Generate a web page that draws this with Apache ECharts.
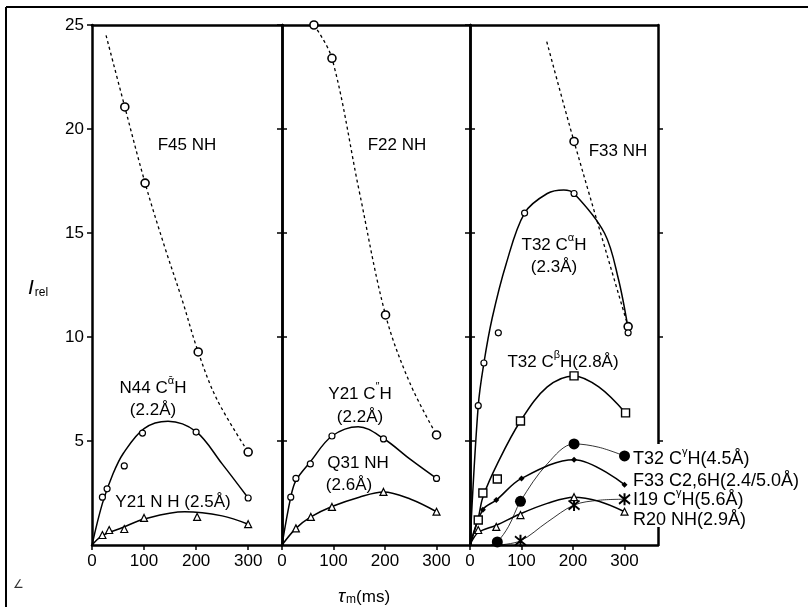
<!DOCTYPE html>
<html><head><meta charset="utf-8">
<script src="https://cdn.jsdelivr.net/npm/echarts@6/dist/echarts.min.js"></script>
<style>html,body{margin:0;padding:0;background:#fff}#c{width:808px;height:607px}</style>
</head><body><div id="c"></div>
<script>
// ---- tick labels ----
const xTicks = [0, 100, 200, 300];
const yTicks = [0, 5, 10, 15, 20, 25];

// ---- Panel 1 ----
const f45Pts = [[63,21.06],[102,17.4],[204,9.28],[300,4.47]];
const f45Line = [[27,24.5],[63,21.06],[102,17.4],[140,14.3],[173,11.8],[204,9.28],[240,7.0],[300,4.47]];
const n44Pts = [[20,2.3],[29,2.7],[62,3.8],[97,5.38],[200,5.43],[300,2.26]];
const n44Fit = [[0,0],[20,2.0],[40,3.4],[60,4.4],[100,5.6],[146,5.95],[200,5.45],[250,3.9],[300,2.26]];
const y21nhPts = [[20,0.48],[33,0.72],[62,0.77],[100,1.3],[202,1.35],[300,1.0]];
const y21nhFit = [[0,0],[20,0.45],[60,0.85],[100,1.25],[178,1.6],[250,1.4],[300,1.0]];

// ---- Panel 2 ----
const f22Pts = [[62,25],[97,23.4],[201,11.06],[300,5.29]];
const f22Line = [[62,25],[97,23.4],[150,17.0],[201,11.06],[248,7.8],[300,5.29]];
const y21caPts = [[17,2.3],[27,3.2],[55,3.9],[97,5.24],[197,5.1],[300,3.2]];
const y21caFit = [[0,0],[17,2.3],[27,3.1],[55,4.0],[97,5.24],[148,5.69],[197,5.12],[250,4.1],[300,3.2]];
const q31Pts = [[27,0.8],[56,1.35],[97,1.83],[197,2.55],[300,1.6]];
const q31Fit = [[0,0],[27,0.8],[56,1.35],[97,1.85],[150,2.3],[197,2.55],[250,2.2],[300,1.6]];

// ---- Panel 3 ----
const f33Pts = [[202,19.4],[307,10.5]];
const f33Line = [[149,24.2],[202,19.4],[307,10.5]];
const t32aPts = [[16,6.7],[27,8.75],[55,10.2],[106,15.96],[202,16.9],[307,10.2]];
const t32aFit = [[0,0],[16,6.7],[27,8.75],[43,10.9],[70,13.5],[106,15.96],[150,16.9],[182,17.07],[202,16.9],[261,15.0],[288,12.8],[307,10.4]];
const t32bPts = [[16,1.2],[25,2.5],[53,3.17],[98,5.96],[202,8.13],[302,6.35]];
const t32bFit = [[0,0],[16,1.3],[25,2.3],[53,3.9],[98,5.96],[150,7.6],[202,8.13],[250,7.6],[302,6.35]];
const t32gPts = [[53,0.15],[98,2.1],[202,4.86],[300,4.28]];
const t32gFit = [[40,0],[53,0.15],[75,0.9],[98,2.1],[150,3.9],[202,4.86],[250,4.7],[300,4.28]];
const f33cPts = [[25,1.7],[51,2.16],[100,3.2],[202,4.1],[300,2.9]];
const f33cFit = [[0,0],[25,1.7],[51,2.16],[100,3.2],[202,4.1],[300,2.9]];
const i19Pts = [[98,0.2],[202,1.92],[300,2.2]];
const i19Fit = [[55,0],[98,0.2],[150,1.1],[202,1.92],[250,2.15],[300,2.2]];
const r20Pts = [[16,0.72],[51,0.87],[98,1.44],[202,2.3],[300,1.6]];
const r20Fit = [[0,0],[16,0.6],[51,0.95],[98,1.5],[150,2.0],[202,2.3],[250,2.1],[300,1.6]];

const FONT = '"Liberation Sans", Arial, sans-serif';
const K = '#000';
const AX = {color: K, width: 2.5};
const grids = [
  {left: 92, top: 25, width: 190, height: 520},
  {left: 282, top: 25, width: 188, height: 520},
  {left: 470, top: 25, width: 188, height: 520}
];
const xAxes = [], yAxes = [];
for (let g = 0; g < 3; g++) {
  xAxes.push({gridIndex: g, type: 'value', min: 0, max: 365, position: 'bottom',
    axisLine: {onZero: false, lineStyle: AX},
    axisTick: {customValues: xTicks, length: 5, lineStyle: {color: K, width: 1.5}},
    axisLabel: {customValues: xTicks, color: K, fontSize: 17, fontFamily: FONT, margin: 8},
    splitLine: {show: false}});
}
for (let g = 0; g < 3; g++) {
  xAxes.push({gridIndex: g, type: 'value', min: 0, max: 365, position: 'top',
    axisLine: {onZero: false, lineStyle: AX}, axisTick: {show: false},
    axisLabel: {show: false}, splitLine: {show: false}});
}
for (let g = 0; g < 3; g++) {
  yAxes.push({gridIndex: g, type: 'value', min: 0, max: 25, interval: 5, position: 'left',
    axisLine: {show: true, onZero: false, lineStyle: AX},
    axisTick: {show: true, customValues: yTicks.slice(1), length: 5, lineStyle: {color: K, width: 1.5}},
    axisLabel: {show: g === 0, customValues: yTicks.slice(1), color: K, fontSize: 17, fontFamily: FONT, margin: 8},
    splitLine: {show: false}});
}
for (let g = 0; g < 3; g++) {
  yAxes.push({gridIndex: g, type: 'value', min: 0, max: 25, interval: 5, position: 'right',
    axisLine: {show: true, onZero: false, lineStyle: AX},
    axisTick: {show: true, customValues: yTicks.slice(1, 5), length: 5, lineStyle: {color: K, width: 1.5}},
    axisLabel: {show: false}, splitLine: {show: false}});
}

const STAR = 'path://M4.2,0 h1.6 v10 h-1.6 z M0.2,1.9 L1.0,0.5 L9.8,8.1 L9.0,9.5 z M0.2,8.1 L9.0,0.5 L9.8,1.9 L1.0,9.5 z';

function curve(data, g, width, dash) {
  return {type: 'line', xAxisIndex: g, yAxisIndex: g, data: data, showSymbol: false, symbol: 'none',
    smooth: 0.35, silent: true, z: 3,
    lineStyle: {color: K, width: width, type: dash ? [3, 3] : 'solid'}};
}
function pts(data, g, symbol, size, filled, bw) {
  return {type: 'scatter', xAxisIndex: g, yAxisIndex: g, data: data, symbol: symbol, symbolSize: size, z: 5,
    itemStyle: {color: filled ? K : '#fff', borderColor: K, borderWidth: filled ? 0 : (bw || 1.2), opacity: 1}};
}

const series = [
  curve(f45Line, 0, 1.3, true), pts(f45Pts, 0, 'circle', 8, false, 1.6),
  curve(n44Fit, 0, 1.5), pts(n44Pts, 0, 'circle', 6, false, 1.2),
  curve(y21nhFit, 0, 1.5), pts(y21nhPts, 0, 'triangle', 7, false, 1.2),

  curve(f22Line, 1, 1.3, true), pts(f22Pts, 1, 'circle', 8, false, 1.6),
  curve(y21caFit, 1, 1.5), pts(y21caPts, 1, 'circle', 6, false, 1.2),
  curve(q31Fit, 1, 1.5), pts(q31Pts, 1, 'triangle', 7, false, 1.2),

  curve(f33Line, 2, 1.3, true), pts(f33Pts, 2, 'circle', 8, false, 1.6),
  curve(t32aFit, 2, 1.5), pts(t32aPts, 2, 'circle', 6, false, 1.2),
  curve(t32bFit, 2, 1.5), pts(t32bPts, 2, 'rect', 8, false, 1.4),
  curve(t32gFit, 2, 0.8), pts(t32gPts, 2, 'circle', 11, true),
  curve(f33cFit, 2, 1.5), pts(f33cPts, 2, 'diamond', 6, true),
  curve(i19Fit, 2, 0.8), pts(i19Pts, 2, STAR, 12, true),
  curve(r20Fit, 2, 1.5), pts(r20Pts, 2, 'triangle', 7, false, 1.2)
];

const RICH = {
  n: {fontSize: 17, fontFamily: FONT, color: K, lineHeight: 22, verticalAlign: 'bottom'},
  r: {fontSize: 18, fontFamily: FONT, color: K, lineHeight: 22, verticalAlign: 'bottom'},
  sup: {fontSize: 11, fontFamily: FONT, color: K, lineHeight: 22, verticalAlign: 'top', padding: [0, 0, 0, 0]},
  it: {fontSize: 21, fontFamily: FONT, fontStyle: 'italic', color: K, lineHeight: 24, verticalAlign: 'bottom'},
  tau: {fontSize: 19, fontFamily: FONT, fontStyle: 'italic', color: K, lineHeight: 22, verticalAlign: 'bottom'},
  sub: {fontSize: 12, fontFamily: FONT, color: K, lineHeight: 14, verticalAlign: 'bottom', padding: [0, 0, 0, 1]}
};
function txt(x, y, text, align) {
  return {type: 'text', x: x, y: y, z: 101, silent: true,
    style: {text: text, rich: RICH, align: align || 'center', verticalAlign: 'middle', fill: K}};
}

const graphic = [
  {type: 'line', z: 100, silent: true, shape: {x1: 6, y1: 7, x2: 808, y2: 7}, style: {stroke: K, lineWidth: 2}},
  {type: 'line', z: 100, silent: true, shape: {x1: 6, y1: 7, x2: 6, y2: 607}, style: {stroke: K, lineWidth: 2}},
  {type: 'rect', z: 100, silent: true, shape: {x: 652, y: 444, width: 12, height: 83}, style: {fill: '#fff'}},
  txt(187, 143, '{n|F45 NH}'),
  txt(153, 386, '{n|N44 C}{sup|ᾱ}{n|H}'),
  txt(153, 408, '{n|(2.2Å)}'),
  txt(173, 500, '{n|Y21 N H (2.5Å)}'),
  txt(397, 143, '{n|F22 NH}'),
  txt(360, 392, '{n|Y21 C}{sup|″}{n|H}'),
  txt(360, 415, '{n|(2.2Å)}'),
  txt(358, 461, '{n|Q31 NH}'),
  txt(349, 483, '{n|(2.6Å)}'),
  txt(618, 149, '{n|F33 NH}'),
  txt(554, 243, '{n|T32 C}{sup|α}{n|H}'),
  txt(554, 265, '{n|(2.3Å)}'),
  txt(563, 360, '{n|T32 C}{sup|β}{n|H(2.8Å)}'),
  txt(633, 457, '{r|T32 C}{sup|γ}{r|H(4.5Å)}', 'left'),
  txt(633, 479, '{r|F33 C2,6H(2.4/5.0Å)}', 'left'),
  txt(633, 498, '{r|I19 C}{sup|γ}{r|H(5.6Å)}', 'left'),
  txt(633, 518, '{r|R20 NH(2.9Å)}', 'left'),
  txt(28, 287, '{it|I}{sub|rel}', 'left'),
  txt(364, 595, '{tau|τ}{sub|m}{n|(ms)}'),
  {type: 'text', x: 13, y: 579, z: 101, silent: true, style: {text: '∠', fontSize: 12, fontFamily: 'DejaVu Sans', fill: '#333'}}
];

const chart = echarts.init(document.getElementById('c'), null, {renderer: 'canvas'});
chart.setOption({
  backgroundColor: '#fff',
  animation: false,
  grid: grids,
  xAxis: xAxes,
  yAxis: yAxes,
  series: series,
  graphic: graphic
});
</script></body></html>
